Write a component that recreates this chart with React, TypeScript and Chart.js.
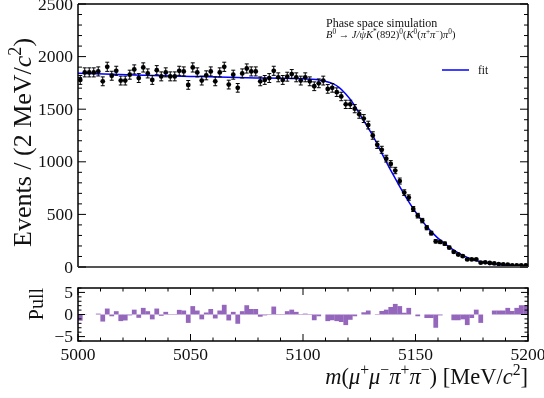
import React, { useEffect, useRef } from 'react';
import { Chart, registerables } from 'chart.js';
Chart.register(...registerables);

const massMin = 5000;
const massMax = 5200;
const binWidth = 2;

const events = [
  1778, 1850, 1850, 1850, 1859, 1765, 1903, 1818, 1865, 1772,
  1772, 1828, 1878, 1796, 1897, 1840, 1778, 1871, 1812, 1850,
  1812, 1812, 1865, 1859, 1731, 1897, 1850, 1772, 1822, 1859,
  1765, 1850, 1903, 1734, 1828, 1703, 1840, 1887, 1859, 1859,
  1765, 1778, 1796, 1865, 1803, 1778, 1809, 1834, 1803, 1772,
  1803, 1765, 1718, 1746, 1772, 1693, 1703, 1662, 1621, 1546,
  1546, 1505, 1452, 1411, 1349, 1250, 1161, 1114, 1030, 980,
  917, 817, 707, 660, 551, 488, 441, 373, 322, 244,
  238, 222, 185, 144, 119, 103, 72, 72, 72, 41,
  44, 38, 34, 28, 25, 22, 16, 16, 16, 16,
];

const pulls = [
  -1.4, 0.05, 0.0, 0.0, 0.2, -1.6, 1.35, -0.4, 0.75, -1.5,
  -1.35, -0.2, 1.1, -0.75, 1.5, 0.75, -1.1, 1.35, -0.3, 0.6,
  -0.1, -0.1, 1.05, 0.9, -1.9, 1.9, 0.9, -1.1, 0.45, 1.25,
  -0.9, 0.9, 2.2, -1.35, 0.6, -2.1, 0.75, 2.1, 1.25, 1.25,
  -0.5, -0.2, 0.1, 1.8, 0.1, -0.1, 0.75, 1.1, 0.6, 0.1,
  0.2, 0.1, -1.3, -0.4, 0.0, -1.5, -1.3, -1.5, -1.7, -2.4,
  -1.2, -0.4, 0.0, 0.5, 0.9, 0.0, 0.1, 0.8, 1.1, 1.7,
  2.4, 1.9, 0.4, 1.5, 0.0, -0.4, 0.0, -0.8, -0.8, -3.0,
  -0.2, 0.0, 0.0, -1.3, -1.3, -1.1, -2.4, -0.8, 1.1, -1.9,
  0.0, 0.0, 0.9, 0.9, 0.9, 1.5, 0.8, 1.5, 2.1, 2.1,
];

const fitMass = [
  5000, 5025, 5050, 5075, 5100, 5106, 5110, 5113, 5116, 5119,
  5122, 5125, 5128, 5131, 5134, 5137, 5140, 5143, 5146, 5149,
  5152, 5155, 5158, 5161, 5164, 5167, 5170, 5173, 5176, 5179,
  5182, 5185, 5190, 5195, 5200,
];
const fitValue = [
  1842, 1826, 1812, 1799, 1789, 1782, 1765, 1745, 1708, 1645,
  1565, 1460, 1355, 1250, 1125, 1000, 880, 765, 655, 555,
  465, 385, 315, 255, 205, 160, 122, 92, 68, 50,
  36, 27, 17, 12, 9,
];

const yTicksTop = [0, 500, 1000, 1500, 2000, 2500];
const yTicksPull = [-5, 0, 5];
const yTickLabelsPull = ['\u22125', '0', '5'];
const xTicks = [5000, 5050, 5100, 5150, 5200];

const binCenters = events.map((_, i) => massMin + binWidth / 2 + binWidth * i);

const FAMILY = '"Liberation Serif", "DejaVu Serif", serif';
const INK = '#111';

type Seg = { t: string; it?: boolean; sup?: boolean };

function segFont(s: Seg, size: number) {
  return `${s.it ? 'italic ' : ''}${s.sup ? size * 0.7 : size}px ${FAMILY}`;
}

function drawRich(ctx: CanvasRenderingContext2D, segs: Seg[], x: number, y: number, size: number, align: 'left' | 'right' | 'center') {
  ctx.save();
  ctx.textBaseline = 'alphabetic';
  ctx.textAlign = 'left';
  let total = 0;
  const ws = segs.map((s) => {
    ctx.font = segFont(s, size);
    const w = ctx.measureText(s.t).width;
    total += w;
    return w;
  });
  let cx = align === 'left' ? x : align === 'right' ? x - total : x - total / 2;
  segs.forEach((s, i) => {
    ctx.font = segFont(s, size);
    ctx.fillText(s.t, cx, y + (s.sup ? -size * 0.4 : 0));
    cx += ws[i];
  });
  ctx.restore();
}

function line(ctx: CanvasRenderingContext2D, x1: number, y1: number, x2: number, y2: number) {
  ctx.beginPath();
  ctx.moveTo(x1, y1);
  ctx.lineTo(x2, y2);
  ctx.stroke();
}

function drawYTicks(ctx: CanvasRenderingContext2D, scale: any, left: number, right: number, min: number, max: number, minorStep: number, majorStep: number, majorLen: number, minorLen: number) {
  const n = Math.round((max - min) / minorStep);
  for (let k = 0; k <= n; k++) {
    const v = min + k * minorStep;
    const isMajor = Math.abs(v / majorStep - Math.round(v / majorStep)) < 1e-6;
    const len = isMajor ? majorLen : minorLen;
    const y = scale.getPixelForValue(v);
    line(ctx, left, y, left + len, y);
    line(ctx, right, y, right - len, y);
  }
}

function drawXTicks(ctx: CanvasRenderingContext2D, scale: any, top: number, bottom: number, min: number, max: number, minorStep: number, majorStep: number, majorLen: number, minorLen: number) {
  const n = Math.round((max - min) / minorStep);
  for (let k = 0; k <= n; k++) {
    const v = min + k * minorStep;
    const isMajor = Math.abs((v - min) / majorStep - Math.round((v - min) / majorStep)) < 1e-6;
    const len = isMajor ? majorLen : minorLen;
    const x = scale.getPixelForValue(v);
    line(ctx, x, bottom, x, bottom - len);
    line(ctx, x, top, x, top + len);
  }
}

const topDecor = {
  id: 'topDecor',
  afterDatasetsDraw(chart: any) {
    const ctx: CanvasRenderingContext2D = chart.ctx;
    const xs = chart.scales.x;
    const ys = chart.scales.y;
    ctx.save();
    ctx.strokeStyle = '#000';
    ctx.lineWidth = 1;
    binCenters.forEach((c, i) => {
      const v = events[i];
      const e = Math.sqrt(v);
      const x = xs.getPixelForValue(c);
      const y1 = ys.getPixelForValue(v + e);
      const y2 = ys.getPixelForValue(Math.max(0, v - e));
      line(ctx, x, y1, x, y2);
      line(ctx, x - 2, y1, x + 2, y1);
      line(ctx, x - 2, y2, x + 2, y2);
    });
    ctx.restore();
  },
  afterDraw(chart: any) {
    const ctx: CanvasRenderingContext2D = chart.ctx;
    const { left, right, top, bottom } = chart.chartArea;
    const ys = chart.scales.y;
    ctx.save();
    // frame
    ctx.strokeStyle = '#000';
    ctx.lineWidth = 1.5;
    line(ctx, left, bottom, left, top);
    line(ctx, left, top, right, top);
    line(ctx, right, top, right, bottom);
    ctx.strokeStyle = '#555';
    ctx.lineWidth = 2;
    line(ctx, left, bottom, right, bottom);
    // ticks
    ctx.strokeStyle = '#000';
    ctx.lineWidth = 1;
    drawYTicks(ctx, ys, left, right, 0, 2500, 100, 500, 8, 4);
    // tick labels
    ctx.fillStyle = INK;
    ctx.font = `17.5px ${FAMILY}`;
    ctx.textAlign = 'right';
    ctx.textBaseline = 'middle';
    yTicksTop.forEach((v) => {
      ctx.fillText(String(v), left - 5, ys.getPixelForValue(v) + 1);
    });
    // y title
    ctx.save();
    ctx.translate(31, 247);
    ctx.rotate(-Math.PI / 2);
    drawRich(ctx, [
      { t: 'Events / (2 MeV/' },
      { t: 'c', it: true },
      { t: '2', sup: true },
      { t: ')' },
    ], 0, 0, 26, 'left');
    ctx.restore();
    // annotations
    ctx.font = `12px ${FAMILY}`;
    ctx.textAlign = 'left';
    ctx.textBaseline = 'alphabetic';
    ctx.fillText('Phase space simulation', 326, 27);
    drawRich(ctx, [
      { t: 'B', it: true },
      { t: '0', sup: true },
      { t: ' \u2192 ' },
      { t: 'J/\u03C8K', it: true },
      { t: '*', sup: true },
      { t: '(892)' },
      { t: '0', sup: true },
      { t: '(' },
      { t: 'K', it: true },
      { t: '0', sup: true },
      { t: '(' },
      { t: '\u03C0', it: true },
      { t: '+', sup: true },
      { t: '\u03C0', it: true },
      { t: '\u2212', sup: true },
      { t: ')' },
      { t: '\u03C0', it: true },
      { t: '0', sup: true },
      { t: ')' },
    ], 326, 38, 10.5, 'left');
    // legend
    ctx.strokeStyle = '#0000ff';
    ctx.lineWidth = 1.5;
    line(ctx, 442, 70, 469, 70);
    ctx.fillStyle = INK;
    ctx.font = `11.5px ${FAMILY}`;
    ctx.textAlign = 'left';
    ctx.textBaseline = 'alphabetic';
    ctx.fillText('fit', 478, 74);
    ctx.restore();
  },
};

const botDecor = {
  id: 'botDecor',
  afterDraw(chart: any) {
    const ctx: CanvasRenderingContext2D = chart.ctx;
    const { left, right, top, bottom } = chart.chartArea;
    const xs = chart.scales.x;
    const ys = chart.scales.y;
    ctx.save();
    ctx.strokeStyle = '#000';
    ctx.lineWidth = 1.5;
    ctx.strokeRect(left, top, right - left, bottom - top);
    ctx.lineWidth = 1;
    drawYTicks(ctx, ys, left, right, -6, 6, 1, 5, 7, 3.5);
    drawXTicks(ctx, xs, top, bottom, massMin, massMax, 10, 50, 7, 3.5);
    ctx.fillStyle = INK;
    ctx.font = `17.5px ${FAMILY}`;
    ctx.textAlign = 'right';
    ctx.textBaseline = 'middle';
    yTicksPull.forEach((v, i) => {
      ctx.fillText(yTickLabelsPull[i], left - 5, ys.getPixelForValue(v) + 1);
    });
    ctx.textAlign = 'center';
    ctx.textBaseline = 'top';
    xTicks.forEach((v) => {
      ctx.fillText(String(v), xs.getPixelForValue(v), bottom + 6);
    });
    // Pull label
    ctx.save();
    ctx.translate(43, top);
    ctx.rotate(-Math.PI / 2);
    drawRich(ctx, [{ t: 'Pull' }], 0, 0, 20, 'right');
    ctx.restore();
    // x title
    drawRich(ctx, [
      { t: 'm', it: true },
      { t: '(' },
      { t: '\u03BC', it: true },
      { t: '+', sup: true },
      { t: '\u03BC', it: true },
      { t: '\u2212', sup: true },
      { t: '\u03C0', it: true },
      { t: '+', sup: true },
      { t: '\u03C0', it: true },
      { t: '\u2212', sup: true },
      { t: ') [MeV/' },
      { t: 'c', it: true },
      { t: '2', sup: true },
      { t: ']' },
    ], right, 102, 22.5, 'right');
    ctx.restore();
  },
};

export default function App() {
  const topRef = useRef<HTMLCanvasElement>(null);
  const botRef = useRef<HTMLCanvasElement>(null);

  useEffect(() => {
    const topChart = new Chart(topRef.current as HTMLCanvasElement, {
      type: 'scatter',
      data: {
        datasets: [
          {
            type: 'line',
            data: fitMass.map((x, i) => ({ x, y: fitValue[i] })),
            borderColor: '#0000ff',
            borderWidth: 1.5,
            pointRadius: 0,
            cubicInterpolationMode: 'monotone',
            fill: false,
            order: 2,
          } as any,
          {
            type: 'scatter',
            data: binCenters.map((x, i) => ({ x, y: events[i] })),
            backgroundColor: '#000',
            borderColor: '#000',
            borderWidth: 0,
            pointRadius: 2.4,
            order: 1,
          },
        ],
      },
      options: {
        animation: false,
        responsive: false,
        maintainAspectRatio: false,
        layout: { padding: { left: 0, right: 16, top: 1, bottom: 15 } },
        plugins: { legend: { display: false }, tooltip: { enabled: false } },
        scales: {
          x: { type: 'linear', min: massMin, max: massMax, display: false },
          y: {
            type: 'linear',
            min: 0,
            max: 2500,
            ticks: { display: false },
            grid: { display: false, drawTicks: false },
            border: { display: false },
            afterFit: (s: any) => { s.width = 78; },
          },
        },
      },
      plugins: [topDecor],
    });

    const botChart = new Chart(botRef.current as HTMLCanvasElement, {
      type: 'bar',
      data: {
        datasets: [
          {
            data: binCenters.map((x, i) => ({ x, y: pulls[i] })),
            backgroundColor: '#9467bd',
            borderWidth: 0,
            barPercentage: 1.06,
            categoryPercentage: 1,
          } as any,
        ],
      },
      options: {
        animation: false,
        responsive: false,
        maintainAspectRatio: false,
        layout: { padding: { left: 0, right: 16, top: 6, bottom: 57 } },
        plugins: { legend: { display: false }, tooltip: { enabled: false } },
        scales: {
          x: { type: 'linear', min: massMin, max: massMax, display: false, offset: false },
          y: {
            type: 'linear',
            min: -6,
            max: 6,
            ticks: { display: false },
            grid: { display: false, drawTicks: false },
            border: { display: false },
            afterFit: (s: any) => { s.width = 78; },
          },
        },
      },
      plugins: [botDecor],
    });

    return () => {
      topChart.destroy();
      botChart.destroy();
    };
  }, []);

  return (
    <div style={{ position: 'absolute', left: 0, top: 0, width: 544, height: 398, background: '#fff' }}>
      <canvas ref={topRef} width={544} height={282} style={{ position: 'absolute', left: 0, top: 0, width: 544, height: 282 }} />
      <canvas ref={botRef} width={544} height={116} style={{ position: 'absolute', left: 0, top: 282, width: 544, height: 116 }} />
    </div>
  );
}
